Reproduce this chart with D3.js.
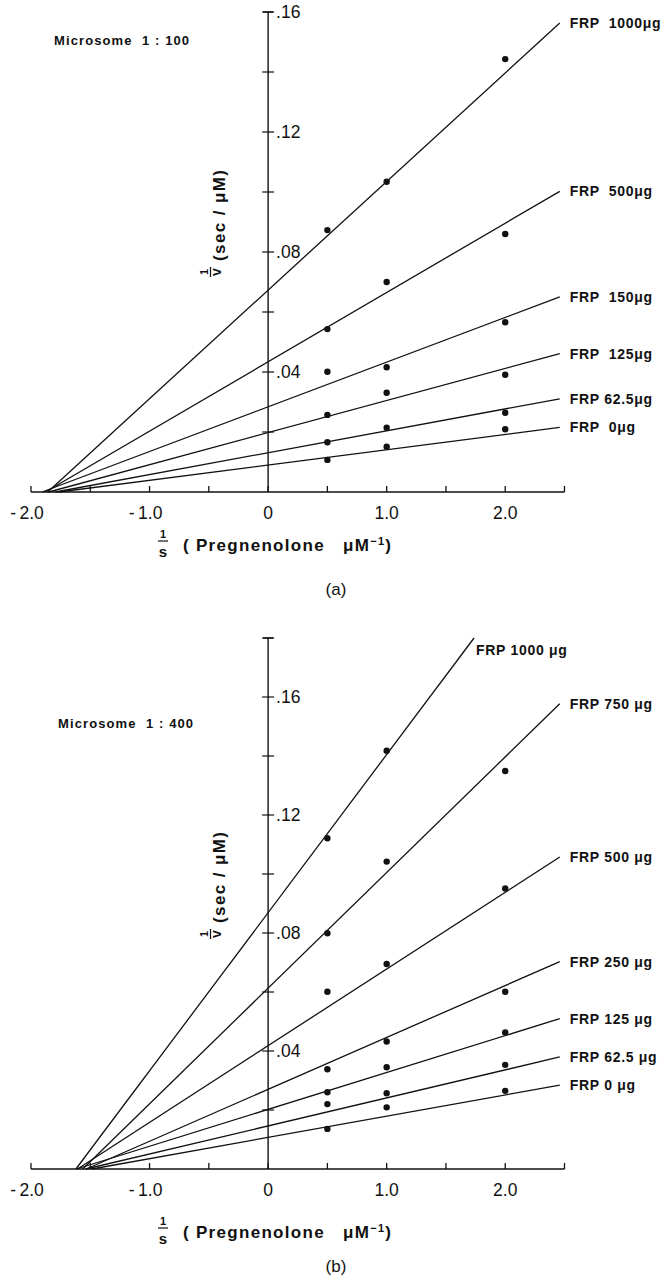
<!DOCTYPE html>
<html>
<head>
<meta charset="utf-8">
<script src="https://cdn.jsdelivr.net/npm/d3@7"></script>
<style>
  body { margin: 0; background: #fff; }
  svg { display: block; }
  text { font-family: "Liberation Sans", Arial, Helvetica, sans-serif; fill: #111; white-space: pre; }
</style>
</head>
<body>
<svg id="chart" width="671" height="1281"></svg>
<script>
// substrate concentrations (1/S) where points were measured
const xPoints = [0.5, 1.0, 2.0];
const xTicks = [-2.0, -1.5, -1.0, -0.5, 0, 0.5, 1.0, 1.5, 2.0, 2.5];
const xTickLabels = [-2.0, -1.0, 0, 1.0, 2.0];

// panel (a) Microsome 1:100
const seriesA = ["FRP  1000\u03bcg", "FRP  500\u03bcg", "FRP  150\u03bcg", "FRP  125\u03bcg", "FRP 62.5\u03bcg", "FRP  0\u03bcg"];
const pointsA = [
  [0.0873, 0.1034, 0.1443],
  [0.0543, 0.0700, 0.0860],
  [0.0401, 0.0416, 0.0566],
  [0.0257, 0.0331, 0.0391],
  [0.0166, 0.0214, 0.0264],
  [0.0107, 0.0151, 0.0209]
];
const interceptsA = [0.0673, 0.0434, 0.0284, 0.0198, 0.0131, 0.0090];
const slopesA = [0.0362, 0.0231, 0.0149, 0.0107, 0.0073, 0.0051];
const yTicksA = [0.02, 0.04, 0.06, 0.08, 0.10, 0.12, 0.14, 0.16];
const yTickLabelsA = [0.04, 0.08, 0.12, 0.16];

// panel (b) Microsome 1:400
const seriesB = ["FRP 1000 \u03bcg", "FRP 750 \u03bcg", "FRP 500 \u03bcg", "FRP 250 \u03bcg", "FRP 125 \u03bcg", "FRP 62.5 \u03bcg", "FRP 0 \u03bcg"];
const pointsB = [
  [0.1121, 0.1418, null],
  [0.0799, 0.1042, 0.1349],
  [0.0601, 0.0695, 0.0951],
  [0.0338, 0.0432, 0.0601],
  [0.0260, 0.0345, 0.0463],
  [0.0220, 0.0257, 0.0353],
  [0.0136, 0.0209, 0.0265]
];
const interceptsB = [0.0869, 0.0613, 0.0418, 0.0270, 0.0202, 0.0146, 0.0107];
const slopesB = [0.0536, 0.0392, 0.0260, 0.0176, 0.0125, 0.0095, 0.0072];
const yTicksB = [0.02, 0.04, 0.06, 0.08, 0.10, 0.12, 0.14, 0.16, 0.18];
const yTickLabelsB = [0.04, 0.08, 0.12, 0.16];

const svg = d3.select("#chart");
const lineEndX = 2.46;

function fmtY(v) {
  return d3.format(".2f")(v).replace(/^0/, "");
}

function drawPanel(cfg) {
  const g = svg.append("g");
  const x = d3.scaleLinear().domain([-2, 2.5]).range([31, 564.5]);
  const y = d3.scaleLinear().domain([0, cfg.yMax]).range([cfg.bottom, cfg.top]);

  // x axis line with inward (upward) ticks
  g.append("line")
    .attr("x1", x(-2)).attr("x2", x(2.5))
    .attr("y1", y(0)).attr("y2", y(0))
    .attr("stroke", "#111").attr("stroke-width", 1.6);
  g.selectAll(".xt").data(xTicks).enter().append("line")
    .attr("x1", d => x(d)).attr("x2", d => x(d))
    .attr("y1", y(0)).attr("y2", y(0) - 6)
    .attr("stroke", "#111").attr("stroke-width", 1.3);
  g.selectAll(".xl").data(xTickLabels).enter().append("text")
    .attr("x", d => x(d) - (d < 0 ? 4 : 0))
    .attr("y", d => y(0) + 27)
    .attr("text-anchor", "middle")
    .attr("font-size", 17.5)
    .text(d => d === 0 ? "0" : d3.format(".1f")(d).replace("\u2212", "-\u2009"));

  // y axis at x = 0, ticks cross the axis
  g.append("line")
    .attr("x1", x(0)).attr("x2", x(0))
    .attr("y1", y(0)).attr("y2", y(cfg.yMax))
    .attr("stroke", "#111").attr("stroke-width", 1.4);
  g.append("line")
    .attr("x1", x(0) - 5).attr("x2", x(0) + 5)
    .attr("y1", y(cfg.yMax)).attr("y2", y(cfg.yMax))
    .attr("stroke", "#111").attr("stroke-width", 1.4);
  g.selectAll(".yt").data(cfg.yTicks).enter().append("line")
    .attr("x1", x(0) - 6).attr("x2", x(0) + 6)
    .attr("y1", d => y(d)).attr("y2", d => y(d))
    .attr("stroke", "#111").attr("stroke-width", 1.2);
  g.selectAll(".yl").data(cfg.yTickLabels).enter().append("text")
    .attr("x", x(0) + 8)
    .attr("y", d => y(d))
    .attr("dy", "0.36em")
    .attr("font-size", 17.5)
    .text(fmtY);

  // fitted lines
  const lines = cfg.series.map((name, i) => {
    const b = cfg.intercepts[i], m = cfg.slopes[i];
    const x0 = Math.max(-2, -b / m);
    const x1 = Math.min(lineEndX, (cfg.yMax - b) / m);
    return { name, x0, x1, y0: b + m * x0, y1: b + m * x1, top: x1 < lineEndX };
  });
  g.selectAll(".fit").data(lines).enter().append("line")
    .attr("x1", d => x(d.x0)).attr("y1", d => y(d.y0))
    .attr("x2", d => x(d.x1)).attr("y2", d => y(d.y1))
    .attr("stroke", "#111").attr("stroke-width", 1.3);

  g.selectAll(".lab").data(lines).enter().append("text")
    .attr("x", d => x(d.x1) + (d.top ? 2 : 10))
    .attr("y", d => y(d.y1) + (d.top ? 17 : 5))
    .attr("font-size", 14)
    .attr("font-weight", "bold")
    .attr("letter-spacing", 0.7)
    .text(d => d.name);

  // data points
  cfg.points.forEach(row => {
    g.selectAll(null).data(row.map((v, j) => [xPoints[j], v]).filter(p => p[1] !== null))
      .enter().append("circle")
      .attr("cx", d => x(d[0])).attr("cy", d => y(d[1]))
      .attr("r", 3.2).attr("fill", "#111");
  });

  // title
  g.append("text")
    .attr("x", cfg.titleX).attr("y", cfg.titleY)
    .attr("font-size", 13).attr("font-weight", "bold")
    .attr("letter-spacing", 1.1)
    .text(cfg.title);

  // y axis label: 1/v (sec / uM), rotated
  const yl = g.append("g").attr("transform", `translate(219,${cfg.yLabelY}) rotate(-90)`);
  yl.append("text").attr("x", -52).attr("y", -11).attr("text-anchor", "middle")
    .attr("font-size", 11).attr("font-weight", "bold").text("1");
  yl.append("line").attr("x1", -57).attr("x2", -47).attr("y1", -8.5).attr("y2", -8.5)
    .attr("stroke", "#111").attr("stroke-width", 1.2);
  yl.append("text").attr("x", -52).attr("y", 2).attr("text-anchor", "middle")
    .attr("font-size", 14).attr("font-weight", "bold").text("v");
  yl.append("text").attr("x", -41).attr("y", 6)
    .attr("font-size", 17).attr("font-weight", "bold")
    .attr("letter-spacing", 1.4)
    .text("(sec / \u03bcM)");

  // x axis label: 1/s (Pregnenolone uM-1)
  const xl = g.append("g").attr("transform", `translate(0,${cfg.xLabelY})`);
  xl.append("text").attr("x", 163).attr("y", -7).attr("text-anchor", "middle")
    .attr("font-size", 11).attr("font-weight", "bold").text("1");
  xl.append("line").attr("x1", 158).attr("x2", 168).attr("y1", -4).attr("y2", -4)
    .attr("stroke", "#111").attr("stroke-width", 1.2);
  xl.append("text").attr("x", 163).attr("y", 12).attr("text-anchor", "middle")
    .attr("font-size", 15).attr("font-weight", "bold").text("s");
  const xt = xl.append("text").attr("x", 183).attr("y", 6)
    .attr("font-size", 17).attr("font-weight", "bold")
    .attr("letter-spacing", 1.3);
  xt.append("tspan").text("( Pregnenolone   \u03bcM");
  xt.append("tspan").attr("dy", -6).attr("font-size", 11).text("\u22121");
  xt.append("tspan").attr("dy", 6).text(")");

  // panel letter
  g.append("text")
    .attr("x", 336).attr("y", cfg.letterY)
    .attr("text-anchor", "middle")
    .attr("font-family", "'Liberation Serif', 'Times New Roman', serif")
    .attr("font-size", 17)
    .text(cfg.letter);
}

drawPanel({
  series: seriesA, points: pointsA, intercepts: interceptsA, slopes: slopesA,
  yMax: 0.16, top: 12, bottom: 492, yTicks: yTicksA, yTickLabels: yTickLabelsA,
  title: "Microsome  1 : 100", titleX: 54, titleY: 45,
  yLabelY: 220, xLabelY: 545, letter: "(a)", letterY: 595
});

drawPanel({
  series: seriesB, points: pointsB, intercepts: interceptsB, slopes: slopesB,
  yMax: 0.18, top: 638, bottom: 1169, yTicks: yTicksB, yTickLabels: yTickLabelsB,
  title: "Microsome  1 : 400", titleX: 58, titleY: 728,
  yLabelY: 882, xLabelY: 1232, letter: "(b)", letterY: 1272
});
</script>
</body>
</html>
